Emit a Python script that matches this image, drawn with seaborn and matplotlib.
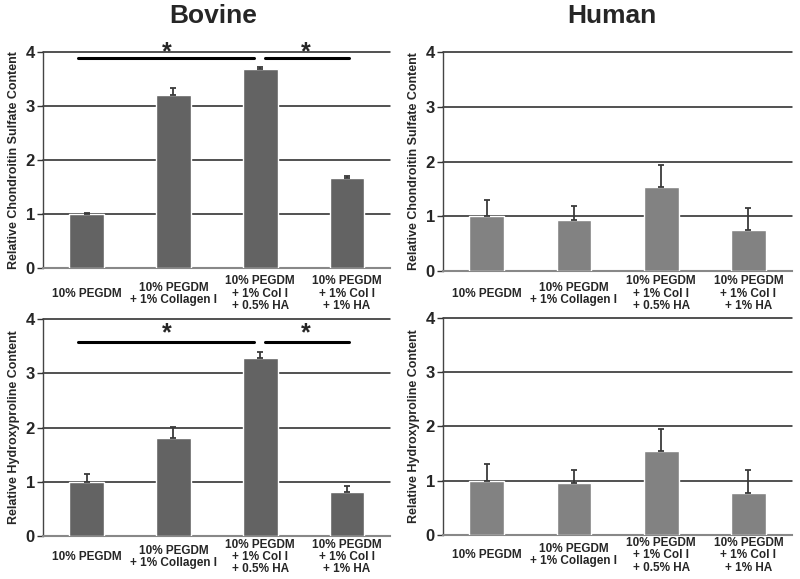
import matplotlib
matplotlib.use("Agg")
import matplotlib.pyplot as plt
import seaborn as sns
import numpy as np
import pandas as pd
import logging
logging.getLogger("matplotlib.font_manager").setLevel(logging.ERROR)

categories = ["10% PEGDM", "10% PEGDM\n+ 1% Collagen I", "10% PEGDM\n+ 1% Col I\n+ 0.5% HA", "10% PEGDM\n+ 1% Col I\n+ 1% HA"]
bovine_cs = [1.00, 3.20, 3.68, 1.67]
bovine_cs_err = [0.02, 0.13, 0.04, 0.03]
human_cs = [1.00, 0.93, 1.53, 0.75]
human_cs_err = [0.30, 0.25, 0.41, 0.41]
bovine_hp = [1.00, 1.81, 3.28, 0.82]
bovine_hp_err = [0.14, 0.21, 0.12, 0.10]
human_hp = [1.00, 0.95, 1.55, 0.77]
human_hp_err = [0.31, 0.25, 0.41, 0.42]
yticks = [0, 1, 2, 3, 4]

sns.set_theme(style="white")
plt.rcParams['font.family'] = ['Liberation Sans', 'DejaVu Sans']

fig = plt.figure(figsize=(8, 5.79), dpi=100)
positions = {
    "tl": [0.054, 0.537, 0.434, 0.373],
    "tr": [0.554, 0.532, 0.436, 0.378],
    "bl": [0.054, 0.074, 0.434, 0.375],
    "br": [0.554, 0.076, 0.436, 0.375],
}
# pad (points) between axis and vertical centre of the category labels
label_pads = {"tl": 18.5, "tr": 16.5, "bl": 15.0, "br": 14.5}
panels = [
    ("tl", bovine_cs, bovine_cs_err, "#636363", "Relative Chondroitin Sulfate Content"),
    ("tr", human_cs, human_cs_err, "#828282", "Relative Chondroitin Sulfate Content"),
    ("bl", bovine_hp, bovine_hp_err, "#636363", "Relative Hydroxyproline Content"),
    ("br", human_hp, human_hp_err, "#828282", "Relative Hydroxyproline Content"),
]
axes = {}
for key, vals, errs, col, ylab in panels:
    ax = fig.add_axes(positions[key])
    axes[key] = ax
    df = pd.DataFrame({"group": categories, "value": vals})
    sns.barplot(data=df, x="group", y="value", color=col, width=0.4, ax=ax,
                saturation=1, errorbar=None, zorder=3)
    xs = np.arange(len(vals))
    ax.errorbar(xs, vals, yerr=[np.zeros(len(errs)), errs], fmt="none",
                ecolor="#3a3a3a", elinewidth=1.3, capsize=2.2, capthick=1.3, zorder=4)
    ax.set_ylim(0, 4)
    ax.set_xlim(-0.5, 3.5)
    ax.set_yticks(yticks)
    ax.set_yticklabels([str(t) for t in yticks], fontsize=12, fontweight="bold")
    ax.set_xticks(xs)
    ax.set_xticklabels(categories, fontsize=8.5, fontweight="bold", linespacing=1.05)
    for lab in ax.get_xticklabels():
        lab.set_va("center")
    ax.set_xlabel("")
    ax.set_ylabel(ylab, fontsize=9, fontweight="bold", labelpad=4)
    for y in yticks[1:]:
        ax.axhline(y, color="#222222", lw=1.1, zorder=1, clip_on=False)
    for s in ["top", "right"]:
        ax.spines[s].set_visible(False)
    ax.spines["left"].set_color("#444444")
    ax.spines["bottom"].set_color("#888888")
    ax.spines["left"].set_linewidth(1.0)
    ax.spines["bottom"].set_linewidth(1.5)
    ax.tick_params(axis="y", length=4, width=1, color="#333333", direction="out", pad=2, left=True)
    ax.tick_params(axis="x", length=0, pad=label_pads[key])
    ax.set_facecolor("white")

# significance markers
def sig(ax, y_line, y_star, segs, stars):
    for x0, x1 in segs:
        ax.plot([x0, x1], [y_line, y_line], color="black", lw=2.2, clip_on=False, zorder=5)
    for xs_ in stars:
        ax.text(xs_, y_star, "*", ha="center", va="center", fontsize=18, fontweight="bold", clip_on=False)

sig(axes["tl"], 3.89, 3.99, [(-0.10, 1.93), (2.05, 3.02)], [0.92, 2.52])
sig(axes["bl"], 3.57, 3.74, [(-0.10, 1.93), (2.05, 3.02)], [0.92, 2.52])

title_fam = ['Liberation Sans Narrow', 'Liberation Sans', 'DejaVu Sans']
fig.text(0.266, 0.972, "Bovine", ha="center", va="center", fontsize=19, fontweight="bold", family=title_fam)
fig.text(0.765, 0.972, "Human", ha="center", va="center", fontsize=19, fontweight="bold", family=title_fam)

fig.savefig("out.png", dpi=100, facecolor="white")
